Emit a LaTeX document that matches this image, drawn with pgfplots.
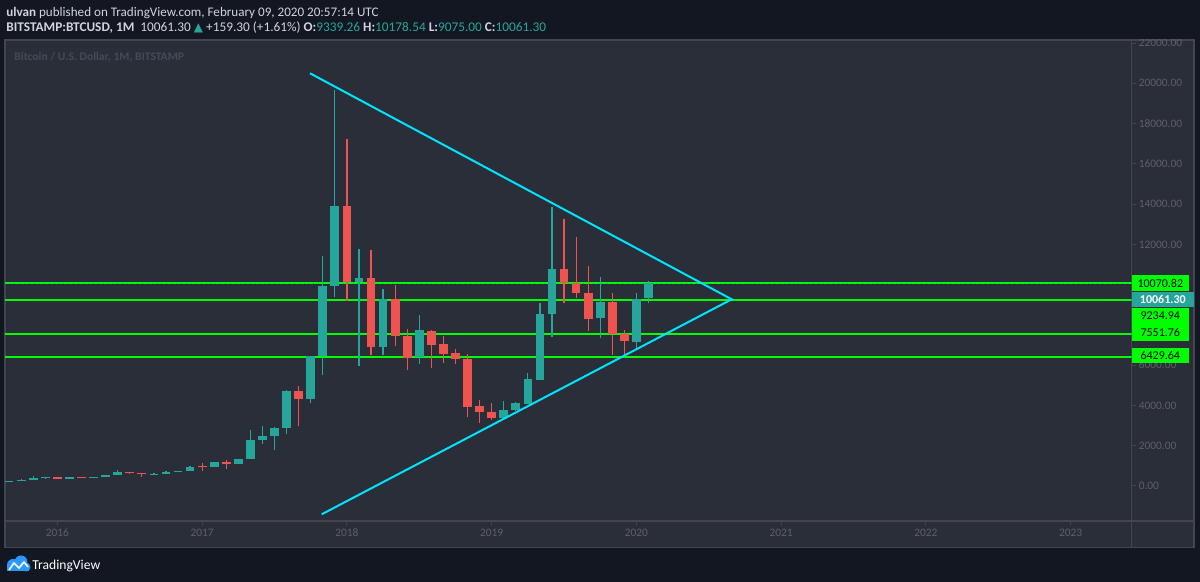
\documentclass[border=0pt]{standalone}
\usepackage{pgfplots}
\pgfplotsset{compat=1.18}
\usepackage{pgfplotstable}
\usepackage{fontspec}
\setmainfont{Carlito}
\newfontfamily\dejavu{DejaVu Sans}
\definecolor{bg}{RGB}{19,23,34}
\definecolor{panel}{RGB}{42,46,57}
\definecolor{frame}{RGB}{67,70,81}
\definecolor{upc}{RGB}{38,166,154}
\definecolor{dnc}{RGB}{239,83,80}
\definecolor{cyanl}{RGB}{0,229,255}
\definecolor{lvl}{RGB}{0,255,0}
\definecolor{txt}{RGB}{209,212,220}
\definecolor{tickc}{RGB}{93,96,107}
\definecolor{wm}{RGB}{70,74,86}
\definecolor{tvblue}{RGB}{41,152,255}

% up candles (close >= open)
\pgfplotstableread{
m O H L C
-4 230 245 225 236
-3 236 336 236 311
-2 311 495 300 377
-1 377 465 350 430
1 368 448 367 437
3 416 467 414 448
4 448 550 437 531
5 531 780 524 673
8 572 630 566 608
9 608 720 605 698
10 698 755 680 742
11 742 975 740 964
13 962 1200 930 1190
15 1080 1350 1070 1350
16 1350 2760 1350 2300
17 2300 2990 2100 2480
18 2480 2920 1800 2870
19 2870 4750 2600 4735
21 4340 6470 4110 6450
22 6450 11430 5530 9950
23 9950 19666 9370 13900
25 10120 11790 5960 10320
27 6900 9790 6510 9270
30 6390 8500 6070 7770
37 3393 4238 3360 3776
38 3776 4150 3700 4108
39 4074 5599 4050 5300
40 5266 9106 5266 8545
41 8545 13875 7417 10765
45 8330 10368 7337 9156
48 7138 9573 6840 9290
49 9339.26 10178.54 9075 10061.30
}\up

% down candles (close < open)
\pgfplotstableread{
m O H L C
0 430 462 350 368
2 437 440 393 416
6 673 705 610 621
7 621 626 465 572
12 985 1150 752 945
14 1190 1300 860 1080
20 4735 4980 2975 4340
24 13900 17250 9200 10120
26 10320 11710 6510 6900
28 9270 9970 6950 7460
29 7460 7800 5760 6350
31 7720 7750 5880 7000
32 7039 7450 6095 6572
33 6590 6790 6060 6300
34 6309 6557 3413 3940
35 3974 4272 3115 3660
36 3691 4108 3279 3393
42 10765 13249 9076 10100
43 10100 12355 9324 9573
44 9573 10929 7716 8281
46 9156 9573 6508 7551
47 7551 7750 6458 7188
}\down

\begin{document}
\begin{tikzpicture}
\begin{scope}[x=0.5pt,y=0.5pt]
\fill[bg] (0,0) rectangle (1200,582);
\fill[panel] (5,34.3) rectangle (1194,542);
\draw[frame, line width=0.6pt] (5,34.3) rectangle (1194,542);
\draw[frame, line width=0.6pt] (5,61) -- (1194,61);
\draw[frame, line width=0.6pt] (1131.7,34.3) -- (1131.7,542);
\node[anchor=base west, inner sep=0, font=\bfseries\fontsize{5.8}{7}\selectfont, text=wm] at (14,521) {Bitcoin / U.S. Dollar, 1M, BITSTAMP};
\end{scope}

\begin{axis}[
  at={(2.5pt,30.5pt)}, anchor=south west, scale only axis,
  width=563.35pt, height=240.5pt,
  xmin=-4.344, xmax=89.06, ymin=-1738.4, ymax=22152.6,
  axis line style={draw=none},
  clip mode=individual,
  xtick={0,12,24,36,48,60,72,84},
  xticklabels={2016,2017,2018,2019,2020,2021,2022,2023},
  ytick={0,2000,4000,6000,8000,10000,12000,14000,16000,18000,20000,22000},
  yticklabels={0.00,2000.00,4000.00,6000.00,,,12000.00,14000.00,16000.00,18000.00,20000.00,22000.00},
  ytick pos=right, yticklabel pos=right,
  xtick pos=bottom,
  tick align=outside,
  major tick length=2pt,
  tick style={draw=frame, line width=0.5pt},
  yticklabel style={font=\fontsize{5.7}{6}\selectfont, text=tickc, anchor=west, xshift=-2pt},
  xticklabel style={font=\fontsize{5.7}{6}\selectfont, text=tickc, yshift=1.6pt},
]
% support / resistance levels
\addplot[lvl, line width=1pt] coordinates {(-6,10070.82) (92,10070.82)};
\addplot[upc, dotted, line width=0.45pt] coordinates {(-6,10061.30) (92,10061.30)};
\addplot[lvl, line width=1pt] coordinates {(-6,9234.94) (92,9234.94)};
\addplot[lvl, line width=1pt] coordinates {(-6,7551.76) (92,7551.76)};
\addplot[lvl, line width=1pt] coordinates {(-6,6429.64) (92,6429.64)};

% wicks
\addplot[draw=none, mark=none, forget plot, error bars/.cd, y dir=plus, y explicit, error mark=none,
  error bar style={draw=upc, solid, line width=0.6pt}]
  table[x=m, y=L, y error expr=\thisrow{H}-\thisrow{L}] {\up};
\addplot[draw=none, mark=none, forget plot, error bars/.cd, y dir=plus, y explicit, error mark=none,
  error bar style={draw=dnc, solid, line width=0.6pt}]
  table[x=m, y=L, y error expr=\thisrow{H}-\thisrow{L}] {\down};
% bodies
\addplot[draw=none, mark=none, forget plot, error bars/.cd, y dir=plus, y explicit, error mark=none,
  error bar style={draw=upc, solid, line width=4.35pt}]
  table[x=m, y=O, y error expr=\thisrow{C}-\thisrow{O}] {\up};
\addplot[draw=none, mark=none, forget plot, error bars/.cd, y dir=plus, y explicit, error mark=none,
  error bar style={draw=dnc, solid, line width=4.35pt}]
  table[x=m, y=C, y error expr=\thisrow{O}-\thisrow{C}] {\down};

% triangle trend lines
\addplot[cyanl, line width=1pt] coordinates {(20.94,20499) (55.90,9273) (21.91,-1406)};

\coordinate (b1) at (axis cs:89.06,10070.82);
\coordinate (b2) at (axis cs:89.06,9263);
\coordinate (b3) at (axis cs:89.06,8444);
\coordinate (b4) at (axis cs:89.06,7614);
\coordinate (b5) at (axis cs:89.06,6482);
\end{axis}

\begin{scope}[font=\fontsize{6}{7}\selectfont]
\node[fill=lvl, text=black, anchor=west, inner sep=0pt, minimum width=28.2pt, minimum height=7.9pt] at (b1) {10070.82};
\node[fill=lvl, text=black, anchor=west, inner sep=0pt, minimum width=28.2pt, minimum height=8.4pt] at (b3) {9234.94};
\node[fill=lvl, text=black, anchor=west, inner sep=0pt, minimum width=28.2pt, minimum height=8.4pt] at (b4) {7551.76};
\node[fill=upc, text=white, anchor=west, inner sep=0pt, minimum width=30.7pt, minimum height=7.9pt, font=\bfseries\fontsize{6}{7}\selectfont] at (b2) {10061.30};
\node[fill=lvl, text=black, anchor=west, inner sep=0pt, minimum width=28.2pt, minimum height=7.9pt] at (b5) {6429.64};
\end{scope}

\begin{scope}[x=0.5pt,y=0.5pt]
\fill[bg] (0,542.5) rectangle (1200,582);
\node[anchor=base west, inner sep=0, text=txt, font=\fontsize{6.55}{8}\selectfont] at (6,565)
  {\textbf{ulvan} published on TradingView.com, February 09, 2020 20:57:14 UTC};
\node[anchor=base west, inner sep=0, text=txt, font=\fontsize{6.65}{8}\selectfont] at (6,550.3)
  {\textbf{BITSTAMP:BTCUSD, 1M}\ \ 10061.30 {\color{upc}\dejavu\fontsize{6}{6}\selectfont ▲} +159.30 (+1.61\%) \textbf{O:}{\color{upc}9339.26} \textbf{H:}{\color{upc}10178.54} \textbf{L:}{\color{upc}9075.00} \textbf{C:}{\color{upc}10061.30}};
% footer logo
\fill[tvblue] (7,11) rectangle (29,16);
\fill[tvblue] (13,17) circle (6);
\fill[tvblue] (21,20) circle (6.5);
\fill[tvblue] (26,15) circle (4.5);
\draw[white, line width=0.8pt, line join=round] (9,12) -- (14,19) -- (19,14) -- (24,20) -- (28,15);
\node[anchor=base west, inner sep=0, text=white, font=\fontsize{6.8}{8}\selectfont] at (32,12.7) {TradingView};
\end{scope}
\pgfresetboundingbox
\useasboundingbox (0,0) rectangle (600pt,291pt);
\end{tikzpicture}
\end{document}
